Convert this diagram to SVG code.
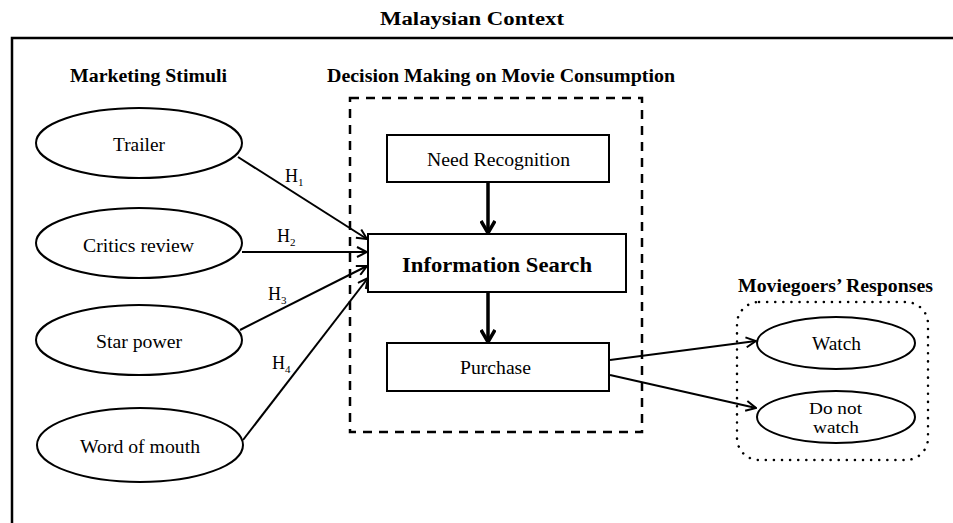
<svg xmlns="http://www.w3.org/2000/svg" width="953" height="523" viewBox="0 0 953 523">
<style>
text{font-family:"Liberation Serif","Times New Roman",serif;fill:#000}
.h{font-weight:bold;font-size:18px}
.t{font-size:18px}
.s{font-size:16px}
.n{fill:#fff;stroke:#000;stroke-width:2}
.c{stroke:#000;stroke-width:2;fill:none}
.tk{stroke:#000;stroke-width:3.5;fill:none}
</style>
<defs>
<marker id="a" viewBox="0 0 12 12" refX="11" refY="6" markerWidth="12" markerHeight="12" markerUnits="userSpaceOnUse" orient="auto"><path d="M1,1 L11,6 L1,11" fill="none" stroke="#000" stroke-width="2"/></marker>
<marker id="b" viewBox="0 0 16 16" refX="14" refY="8" markerWidth="16" markerHeight="16" markerUnits="userSpaceOnUse" orient="auto"><path d="M2,1 L14,8 L2,15" fill="none" stroke="#000" stroke-width="3.5"/></marker>
</defs>
<rect width="953" height="523" fill="#fff"/>
<text class="h" x="380" y="25" textLength="184" lengthAdjust="spacingAndGlyphs">Malaysian Context</text>
<path d="M12,523 V38 H953" fill="none" stroke="#000" stroke-width="2.5"/>
<text class="h" x="70" y="82" textLength="157" lengthAdjust="spacingAndGlyphs">Marketing Stimuli</text>
<text class="h" x="327" y="82" textLength="348" lengthAdjust="spacingAndGlyphs">Decision Making on Movie Consumption</text>
<text class="h" x="738" y="292" textLength="195" lengthAdjust="spacingAndGlyphs">Moviegoers’ Responses</text>
<rect x="350" y="98" width="292" height="334" fill="none" stroke="#000" stroke-width="2.5" stroke-dasharray="9,7"/>
<rect x="737" y="302" width="191" height="158" rx="22" fill="none" stroke="#000" stroke-width="2.5" stroke-dasharray="0.1,8" stroke-linecap="round"/>
<g id="connectors">
<path class="c" d="M238,157 L367,239" marker-end="url(#a)"/>
<path class="c" d="M242,252 L367,252" marker-end="url(#a)"/>
<path class="c" d="M240,330 L367,266" marker-end="url(#a)"/>
<path class="c" d="M243,440 L368,278" marker-end="url(#a)"/>
<path class="tk" d="M488,182 V233" marker-end="url(#b)"/>
<path class="tk" d="M488,292 V342" marker-end="url(#b)"/>
<path class="c" d="M610,360 L756,341" marker-end="url(#a)"/>
<path class="c" d="M610,375 L756,408" marker-end="url(#a)"/>
<text class="t" x="285" y="182">H<tspan font-size="11" dy="4">1</tspan></text>
<text class="t" x="277" y="242">H<tspan font-size="11" dy="4">2</tspan></text>
<text class="t" x="268" y="300">H<tspan font-size="11" dy="4">3</tspan></text>
<text class="t" x="272" y="369">H<tspan font-size="11" dy="4">4</tspan></text>
</g>
<g id="trailer"><ellipse class="n" cx="139" cy="143" rx="103" ry="35"/><text class="t" x="113" y="151" textLength="52" lengthAdjust="spacingAndGlyphs">Trailer</text></g>
<g id="critics"><ellipse class="n" cx="139" cy="243" rx="103" ry="35"/><text class="t" x="83" y="252" textLength="111" lengthAdjust="spacingAndGlyphs">Critics review</text></g>
<g id="star"><ellipse class="n" cx="139" cy="340" rx="103" ry="35"/><text class="t" x="96" y="348" textLength="86" lengthAdjust="spacingAndGlyphs">Star power</text></g>
<g id="wom"><ellipse class="n" cx="140" cy="445" rx="103" ry="37"/><text class="t" x="80" y="453" textLength="120" lengthAdjust="spacingAndGlyphs">Word of mouth</text></g>
<g id="need"><rect class="n" x="387" y="135" width="222" height="47"/><text class="t" x="427" y="166" textLength="143" lengthAdjust="spacingAndGlyphs">Need Recognition</text></g>
<g id="info"><rect class="n" x="368" y="234" width="258" height="58"/><text x="402" y="272" font-weight="bold" font-size="20" textLength="190" lengthAdjust="spacingAndGlyphs">Information Search</text></g>
<g id="purchase"><rect class="n" x="387" y="343" width="222" height="48"/><text class="t" x="460" y="374" textLength="71" lengthAdjust="spacingAndGlyphs">Purchase</text></g>
<g id="watch"><ellipse class="n" cx="836" cy="343" rx="79" ry="26"/><text class="t" x="812" y="350" textLength="49" lengthAdjust="spacingAndGlyphs">Watch</text></g>
<g id="notwatch"><ellipse class="n" cx="836" cy="417" rx="79" ry="26"/><text class="s" x="809" y="414" textLength="53" lengthAdjust="spacingAndGlyphs">Do not</text><text class="s" x="813" y="433" textLength="46" lengthAdjust="spacingAndGlyphs">watch</text></g>
</svg>
